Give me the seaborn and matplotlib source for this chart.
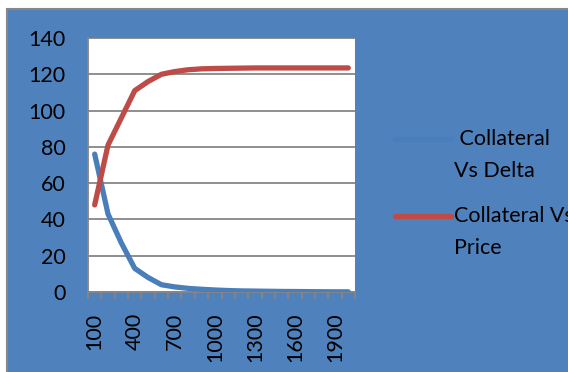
#%% import tools and libraries
import pandas as pd
import seaborn as sb
import matplotlib.pyplot as plt
from matplotlib.patches import Rectangle
from matplotlib.legend_handler import HandlerLine2D

#%% data
collateral = [100, 200, 300, 400, 500, 600, 700, 800, 900, 1000,
              1100, 1200, 1300, 1400, 1500, 1600, 1700, 1800, 1900, 2000]
delta = [76, 43, 27, 13, 8, 4, 2.8, 2, 1.5, 1.1,
         0.8, 0.6, 0.5, 0.4, 0.3, 0.25, 0.2, 0.15, 0.1, 0.1]
price = [48, 81, 96, 111, 116, 120, 121.5, 122.5, 123, 123.2,
         123.3, 123.4, 123.5, 123.5, 123.5, 123.5, 123.5, 123.5, 123.5, 123.5]
series_names = [' Collateral\nVs Delta', 'Collateral Vs\nPrice']
tick_labels = ['100', '400', '700', '1000', '1300', '1600', '1900']

df = pd.DataFrame({
    'Collateral': collateral * 2,
    'Value': delta + price,
    'Series': [series_names[0]] * len(delta) + [series_names[1]] * len(price),
})

bg = '#4F81BD'
grey = '#868686'
fs = 15.5
ls = 1.75


# legend line next to the first text line, not the middle of the label
class TopLine(HandlerLine2D):
    def create_artists(self, legend, orig_handle, xdescent, ydescent,
                       width, height, fontsize, trans):
        arts = super().create_artists(legend, orig_handle, xdescent, ydescent,
                                      width, height, fontsize, trans)
        for a in arts:
            a.set_ydata([y + 0.5 * ls * fs - 2 for y in a.get_ydata()])
        return arts


#%% plot
sb.set_style('white')
plt.rcParams['font.family'] = ['Lato', 'DejaVu Sans']
plt.rcParams['text.color'] = 'black'
plt.rcParams['xtick.labelcolor'] = 'black'
plt.rcParams['ytick.labelcolor'] = 'black'

fig = plt.figure(figsize=(5.68, 3.72), dpi=100, facecolor='white')
fig.patches.append(Rectangle((7 / 568, -0.01), 1.0, 1 - 9 / 372 + 0.01,
                             transform=fig.transFigure, facecolor=bg,
                             edgecolor=grey, linewidth=1.5, zorder=-5))
ax = fig.add_axes([88 / 568, 1 - 292 / 372, 267 / 568, 254 / 372])
ax.set_facecolor('white')

sb.lineplot(data=df, x='Collateral', y='Value', hue='Series', sort=False,
            palette=['#4A7EBB', '#BE4B48'], linewidth=3.8, ax=ax,
            legend=True, zorder=3)
for ln in ax.lines:
    ln.set_solid_capstyle('round')

ax.set_xlim(50, 2050)
ax.set_ylim(0, 140)
ax.set_yticks(range(0, 141, 20))
ax.set_xticks([int(t) for t in tick_labels])
ax.set_xticklabels(tick_labels, rotation=90, va='top')
ax.set_xticks(range(50, 2051, 100), minor=True)
ax.grid(axis='y', color=grey, linewidth=1.3)
ax.tick_params(axis='y', length=6, width=1.3, color=grey, pad=10, labelsize=fs)
ax.tick_params(axis='x', which='major', length=0, pad=15, labelsize=fs)
ax.tick_params(axis='x', which='minor', length=5, width=1.3, color=grey, bottom=True)
for s in ['top', 'right']:
    ax.spines[s].set_visible(False)
for s in ['left', 'bottom']:
    ax.spines[s].set_color(grey)
    ax.spines[s].set_linewidth(1.3)
ax.set_xlabel('')
ax.set_ylabel('')

h, l = ax.get_legend_handles_labels()
ax.legend_.remove()
leg = fig.legend(h, l, loc='upper left', bbox_to_anchor=(395 / 568, 1 - 129 / 372),
                 frameon=False, fontsize=fs, borderpad=0, borderaxespad=0,
                 handlelength=2.6, handletextpad=0.15, labelspacing=1.15,
                 handler_map={h[0]: TopLine(), h[1]: TopLine()})
for t in leg.get_texts():
    t.set_linespacing(ls)

fig.savefig('out.png', dpi=100, facecolor=fig.get_facecolor())
